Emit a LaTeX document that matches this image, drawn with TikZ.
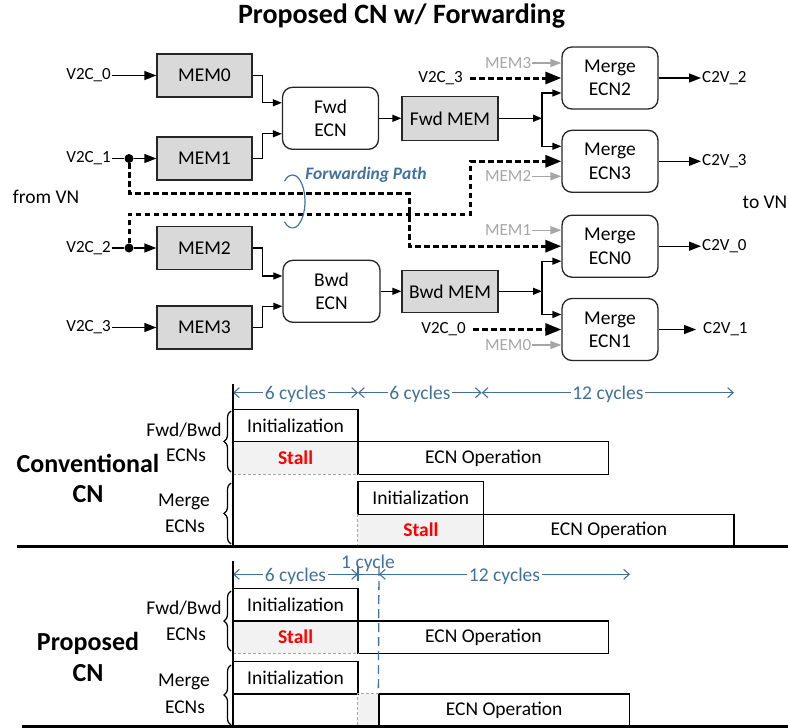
\documentclass[tikz,border=0pt]{standalone}
\usepackage{fontspec}
\setmainfont{Carlito}
\usetikzlibrary{arrows.meta,calc,decorations.pathreplacing}
\definecolor{memgray}{HTML}{D9D9D9}
\definecolor{stallgray}{HTML}{F2F2F2}
\definecolor{lightlbl}{HTML}{A6A6A6}
\definecolor{dimblue}{HTML}{41719C}
\newcommand\fzTitle{\fontsize{28}{30}\selectfont}
\newcommand\fzBox{\fontsize{19.5}{23.3}\selectfont}
\newcommand\fzIO{\fontsize{17}{19}\selectfont}
\newcommand\fzSide{\fontsize{26}{28}\selectfont}
\newcommand\fzRow{\fontsize{19.5}{22}\selectfont}
\begin{document}
\begin{tikzpicture}[x=1pt,y=-1pt,
  lw/.style={line width=1.3pt},
  membox/.style={draw=black!85, fill=memgray, line width=1.3pt, minimum width=95pt, minimum height=43pt, inner sep=0pt, font=\fzBox},
  ecnbox/.style={draw=black!85, fill=white, rounded corners=10pt, line width=1.3pt, minimum width=96pt, minimum height=62pt, align=center, inner sep=0pt, font=\fzBox},
  io/.style={font=\fzIO, inner sep=1pt},
  gio/.style={io, text=lightlbl},
  dot/.style={circle, fill, inner sep=0pt, minimum size=9pt},
  arr/.style={line width=1.3pt, -{Triangle[length=9pt,width=7pt]}},
  arrm/.style={line width=1.3pt, -{Triangle[length=12pt,width=9pt]}},
  garr/.style={line width=1.3pt, draw=lightlbl, -{Triangle[length=11pt,width=8pt]}},
  fwd/.style={line width=3pt, dash pattern=on 5.5pt off 3.5pt, -{Triangle[length=16pt,width=12pt]}},
  tbox/.style={draw, line width=1.3pt, inner sep=0pt, font=\fzRow},
  stallbox/.style={fill=stallgray, inner sep=0pt, font=\fzRow\bfseries, text=red},
  gdash/.style={draw=lightlbl, line width=1.1pt, dash pattern=on 3pt off 2pt},
  dim/.style={draw=dimblue, line width=1.1pt, {Straight Barb[length=5.5pt,width=10pt]}-{Straight Barb[length=5.5pt,width=10pt]}},
  dimline/.style={draw=dimblue, line width=1.1pt},
  dimtxt/.style={fill=white, inner sep=1.5pt, text=dimblue, font=\fzRow, yshift=-2pt},
  bdash/.style={draw=dimblue, line width=1.3pt, dash pattern=on 9pt off 5pt},
  brc/.style={decorate, decoration={brace, amplitude=7pt}, line width=1.2pt},
  side/.style={font=\fzSide\bfseries},
  lab/.style={font=\fzRow},
  ground/.style={line width=3.5pt},
  axis/.style={line width=2pt}]
\useasboundingbox (0,0) rectangle (788,728);

% ---------------- block diagram ----------------
\node[font=\fzTitle\bfseries] (title) at (401.5,16) {Proposed CN w/ Forwarding};

\node[membox] (mem0) at (204.5,75.5) {MEM0};
\node[membox] (mem1) at (204.5,158.5) {MEM1};
\node[membox] (mem2) at (204.5,248) {MEM2};
\node[membox] (mem3) at (204.5,327.5) {MEM3};
\node[ecnbox] (fecn) at (330.5,118.3) {Fwd\\ECN};
\node[ecnbox, minimum width=97pt] (becn) at (331.5,291.3) {Bwd\\ECN};
\node[membox, minimum width=96pt, minimum height=44pt] (fmem) at (450,118.3) {Fwd MEM};
\node[membox, minimum width=96pt, minimum height=42pt] (bmem) at (450,291.3) {Bwd MEM};
\node[ecnbox] (m2) at (610,78) {Merge\\ECN2};
\node[ecnbox] (m3) at (610,161.3) {Merge\\ECN3};
\node[ecnbox] (m0) at (610,246.2) {Merge\\ECN0};
\node[ecnbox] (m1) at (610,329.5) {Merge\\ECN1};

% inputs from the variable nodes
\node[io, anchor=east] (v0) at (112,75.5) {V2C\_0};
\node[io, anchor=east] (v1) at (112,158.5) {V2C\_1};
\node[io, anchor=east] (v2) at (112,248) {V2C\_2};
\node[io, anchor=east] (v3) at (112,327.5) {V2C\_3};
\node[dot] (j1) at (129,158.5) {};
\node[dot] (j2) at (129,248) {};
\draw[arrm] (v0) -- (mem0);
\draw[lw] (v1) -- (j1);
\draw[arrm] (j1) -- (mem1);
\draw[lw] (v2) -- (j2);
\draw[arrm] (j2) -- (mem2);
\draw[arrm] (v3) -- (mem3);

% memories into the forward / backward ECNs
\draw[arr] (mem0.east) -- ++(10,0) |- ($(fecn.west)+(0,-15.5)$);
\draw[arr] (mem1.east) -- ++(10,0) |- ($(fecn.west)+(0,15.5)$);
\draw[arr] (mem2.east) -- ++(10,0) |- ($(becn.west)+(0,-15.3)$);
\draw[arr] (mem3.east) -- ++(10,0) |- ($(becn.west)+(0,15)$);
\draw[arr] (fecn) -- (fmem);
\draw[arr] (becn) -- (bmem);

% fan-out of the forward / backward memories
\coordinate (fj) at (542,118.3);
\coordinate (bj) at (542,291.3);
\draw[arr] (fmem) -- (fj);
\draw[arr] (fj) |- ($(m2.west)+(0,15)$);
\draw[arr] (fj) |- ($(m3.west)+(0,-15)$);
\draw[arr] (bmem) -- (bj);
\draw[arr] (bj) |- ($(m0.west)+(0,15)$);
\draw[arr] (bj) |- ($(m1.west)+(0,-15)$);

% memory inputs of the merge ECNs
\node[gio, anchor=east] (g3) at ($(m2.west)+(-29,-15)$) {MEM3};
\draw[garr] (g3) -- ($(m2.west)+(0,-15)$);
\node[gio, anchor=east] (g2) at ($(m3.west)+(-29,15)$) {MEM2};
\draw[garr] (g2) -- ($(m3.west)+(0,15)$);
\node[gio, anchor=east] (g1) at ($(m0.west)+(-29,-16)$) {MEM1};
\draw[garr] (g1) -- ($(m0.west)+(0,-16)$);
\node[gio, anchor=east] (g0) at ($(m1.west)+(-29,15.5)$) {MEM0};
\draw[garr] (g0) -- ($(m1.west)+(0,15.5)$);

% forwarded V2C messages
\node[io, anchor=east] (r3) at (464,78) {V2C\_3};
\draw[fwd, shorten <=6pt] (r3) -- (m2);
\node[io, anchor=east] (r0) at (467,329.5) {V2C\_0};
\draw[fwd, shorten <=6pt] (r0) -- (m1);
\coordinate (ka) at (409,193);
\coordinate (kb) at (470.7,214);
\draw[fwd] (j1) |- (ka) |- (m0.west);
\draw[fwd] (j2) |- (kb) |- (m3.west);
\draw[dimblue, line width=1.2pt] (292.5,201.5) ++({12.5*cos(130)},{26.5*sin(130)})
  arc[start angle=130, end angle=-130, x radius=12.5, y radius=26.5];
\node[font=\fontsize{17.5}{19}\selectfont\bfseries\itshape, text=dimblue] (fp) at (366,175) {Forwarding Path};

% outputs to the variable nodes
\node[io, anchor=west] (c2) at (701,78) {C2V\_2};
\node[io, anchor=west] (c3) at (701,161.3) {C2V\_3};
\node[io, anchor=west] (c0) at (701,246.2) {C2V\_0};
\node[io, anchor=west] (c1) at (702,329.5) {C2V\_1};
\draw[arrm] (m2) -- (c2);
\draw[arrm] (m3) -- (c3);
\draw[arrm] (m0) -- (c0);
\draw[arrm, shorten >=6pt] (m1) -- (c1);

\node[lab] (fromvn) at (46,197) {from VN};
\node[lab] (tovn) at (765,202) {to VN};

% ---------------- conventional schedule ----------------
\node[stallbox, minimum width=125pt, minimum height=32.6pt] (cs1) at (295.5,458) {Stall};
\node[stallbox, minimum width=125.7pt, minimum height=31.7pt] (cs2) at (420.85,530.15) {Stall};
\node[tbox, minimum width=125pt, minimum height=32.4pt] (ci1) at (295.5,425.5) {Initialization};
\node[tbox, minimum width=250.7pt, minimum height=32.6pt] (co1) at (483.35,458) {ECN Operation};
\node[tbox, minimum width=125.7pt, minimum height=32.6pt] (ci2) at (420.85,498) {Initialization};
\node[tbox, minimum width=250.3pt, minimum height=31.7pt] (co2) at (608.85,530.15) {ECN Operation};
\draw[gdash] (cs1.south west) -- (cs1.south east);
\draw[gdash] (cs2.north west) -- (cs2.south west);

\coordinate (d0) at (233,392.7);
\coordinate (d1) at (358,392.7);
\coordinate (d2) at (481.7,392.7);
\coordinate (d3) at (734,392.7);
\draw[dim] (d0) -- node[dimtxt] (dt1) {6 cycles} (d1);
\draw[dim] (d1) -- node[dimtxt] (dt2) {6 cycles} (d2);
\draw[dim] (d2) -- node[dimtxt] (dt3) {12 cycles} (d3);

\coordinate (ca0) at (233,384);
\coordinate (ca1) at (233,546.5);
\draw[axis] (ca0) -- (ca1);
\coordinate (cg0) at (17,546.5);
\coordinate (cg1) at (788,546.5);
\draw[ground] (cg0) -- (cg1);

\node[lab] (cl1) at (184,430) {Fwd/Bwd};
\node[lab] (cl2) at (186,455) {ECNs};
\node[lab] (cl3) at (184,502) {Merge};
\node[lab] (cl4) at (185,526) {ECNs};
\coordinate (cb1a) at (231,472);
\coordinate (cb1b) at (231,411);
\coordinate (cb2a) at (231,544);
\coordinate (cb2b) at (231,483);
\draw[brc] (cb1a) -- (cb1b);
\draw[brc] (cb2a) -- (cb2b);
\node[side] (cn1) at (88,463) {Conventional};
\node[side] (cn2) at (88,494) {CN};

% ---------------- proposed schedule ----------------
\node[stallbox, minimum width=125pt, minimum height=32.3pt] (ps1) at (295.5,637.15) {Stall};
\node[stallbox, minimum width=21pt, minimum height=33pt] (ps2) at (368.5,710.5) {};
\node[tbox, minimum width=125pt, minimum height=32.7pt] (pi1) at (295.5,604.65) {Initialization};
\node[tbox, minimum width=250.7pt, minimum height=32.3pt] (po1) at (483.35,637.15) {ECN Operation};
\node[tbox, minimum width=125pt, minimum height=32.3pt] (pi2) at (295.5,677.85) {Initialization};
\node[tbox, minimum width=250.3pt, minimum height=33pt] (po2) at (504.15,710.5) {ECN Operation};
\draw[gdash] (ps1.south west) -- (ps1.south east);
\draw[gdash] (ps2.north east) -- (ps2.north west) -- (ps2.south west);

\coordinate (e0) at (233,574.3);
\coordinate (e1) at (358,574.3);
\coordinate (e2) at (379,574.3);
\coordinate (e3) at (630,574.3);
\coordinate (e1t) at (358,567);
\coordinate (e1b) at (358,581);
\coordinate (e2t) at (379,567);
\draw[dimline] (e1) -- (e2);
\draw[dimline] (e1t) -- (e1b);
\draw[dim] (e0) -- node[dimtxt] (et1) {6 cycles} (e1);
\draw[dim] (e2) -- node[dimtxt] (et2) {12 cycles} (e3);
\node[dimtxt, fill=none] (et3) at (368,561) {1 cycle};
\draw[bdash] (e2t) -- (po2.north west);

\coordinate (pa0) at (233,561);
\coordinate (pa1) at (233,727);
\draw[axis] (pa0) -- (pa1);
\coordinate (pg0) at (22,726.5);
\coordinate (pg1) at (788,726.5);
\draw[ground] (pg0) -- (pg1);

\node[lab] (pl1) at (184,608) {Fwd/Bwd};
\node[lab] (pl2) at (186,634) {ECNs};
\node[lab] (pl3) at (184,682) {Merge};
\node[lab] (pl4) at (185,707) {ECNs};
\coordinate (pb1a) at (231,651);
\coordinate (pb1b) at (231,591);
\coordinate (pb2a) at (231,725);
\coordinate (pb2b) at (231,665);
\draw[brc] (pb1a) -- (pb1b);
\draw[brc] (pb2a) -- (pb2b);
\node[side] (pn1) at (88,643) {Proposed};
\node[side] (pn2) at (88,673) {CN};
\end{tikzpicture}
\end{document}
